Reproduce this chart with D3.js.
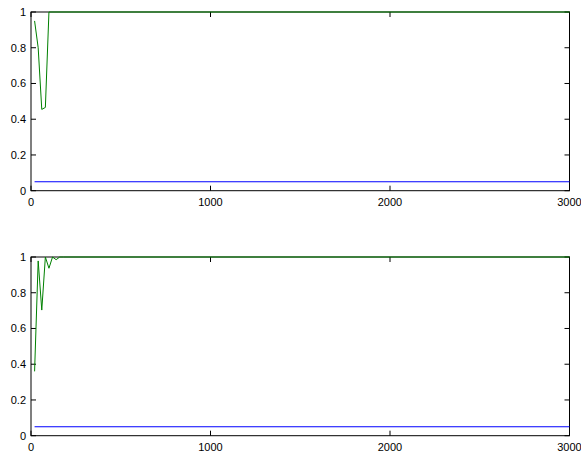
<!DOCTYPE html>
<html>
<head>
<meta charset="utf-8">
<script src="https://cdn.jsdelivr.net/npm/d3@7"></script>
<style>
  body { margin: 0; background: #fff; }
  text { font-family: "Liberation Sans", Arial, sans-serif; font-size: 11px; fill: #000; }
</style>
</head>
<body>
<div id="chart"></div>
<script>
// Data
const topX = [20, 40, 60, 80, 100, 3000];
const topY = [0.95, 0.8, 0.455, 0.466, 1, 1];

const bottomX = [20, 40, 60, 80, 100, 120, 140, 160, 180, 3000];
const bottomY = [0.36, 0.978, 0.703, 1, 0.937, 1, 0.985, 1, 1, 1];

const levelX = [20, 3000];
const levelY = [0.05, 0.05];

const xTicks = [0, 1000, 2000, 3000];
const yTicks = [0, 0.2, 0.4, 0.6, 0.8, 1];

const width = 581, height = 454;

const svg = d3.select('#chart')
    .append('svg')
    .attr('width', width)
    .attr('height', height);

const panels = [
    { top: 12, bottom: 190.7, xs: topX, ys: topY },
    { top: 257, bottom: 435.7, xs: bottomX, ys: bottomY }
];

const left = 31, right = 569.5;

panels.forEach(p => {
    const x = d3.scaleLinear().domain([0, 3000]).range([left, right]);
    const y = d3.scaleLinear().domain([0, 1]).range([p.bottom, p.top]);

    const g = svg.append('g');

    // box
    g.append('rect')
        .attr('x', left).attr('y', p.top)
        .attr('width', right - left).attr('height', p.bottom - p.top)
        .attr('fill', 'none').attr('stroke', '#000').attr('stroke-width', 1);

    // inward ticks on all sides
    const tl = 5;
    xTicks.forEach(t => {
        g.append('line').attr('x1', x(t)).attr('x2', x(t))
            .attr('y1', p.bottom).attr('y2', p.bottom - tl).attr('stroke', '#000');
        g.append('line').attr('x1', x(t)).attr('x2', x(t))
            .attr('y1', p.top).attr('y2', p.top + tl).attr('stroke', '#000');
        g.append('text').attr('x', x(t)).attr('y', p.bottom + 15)
            .attr('text-anchor', 'middle').text(t);
    });
    yTicks.forEach(t => {
        g.append('line').attr('x1', left).attr('x2', left + tl)
            .attr('y1', y(t)).attr('y2', y(t)).attr('stroke', '#000');
        g.append('line').attr('x1', right).attr('x2', right - tl)
            .attr('y1', y(t)).attr('y2', y(t)).attr('stroke', '#000');
        g.append('text').attr('x', left - 5).attr('y', y(t) + 4)
            .attr('text-anchor', 'end').text(t);
    });

    const line = d3.line().x(d => x(d[0])).y(d => y(d[1]));

    g.append('path')
        .datum(levelX.map((v, i) => [v, levelY[i]]))
        .attr('d', line)
        .attr('fill', 'none').attr('stroke', '#0000ff').attr('stroke-width', 1);

    g.append('path')
        .datum(p.xs.map((v, i) => [v, p.ys[i]]))
        .attr('d', line)
        .attr('fill', 'none').attr('stroke', '#008000').attr('stroke-width', 1);
});
</script>
</body>
</html>
